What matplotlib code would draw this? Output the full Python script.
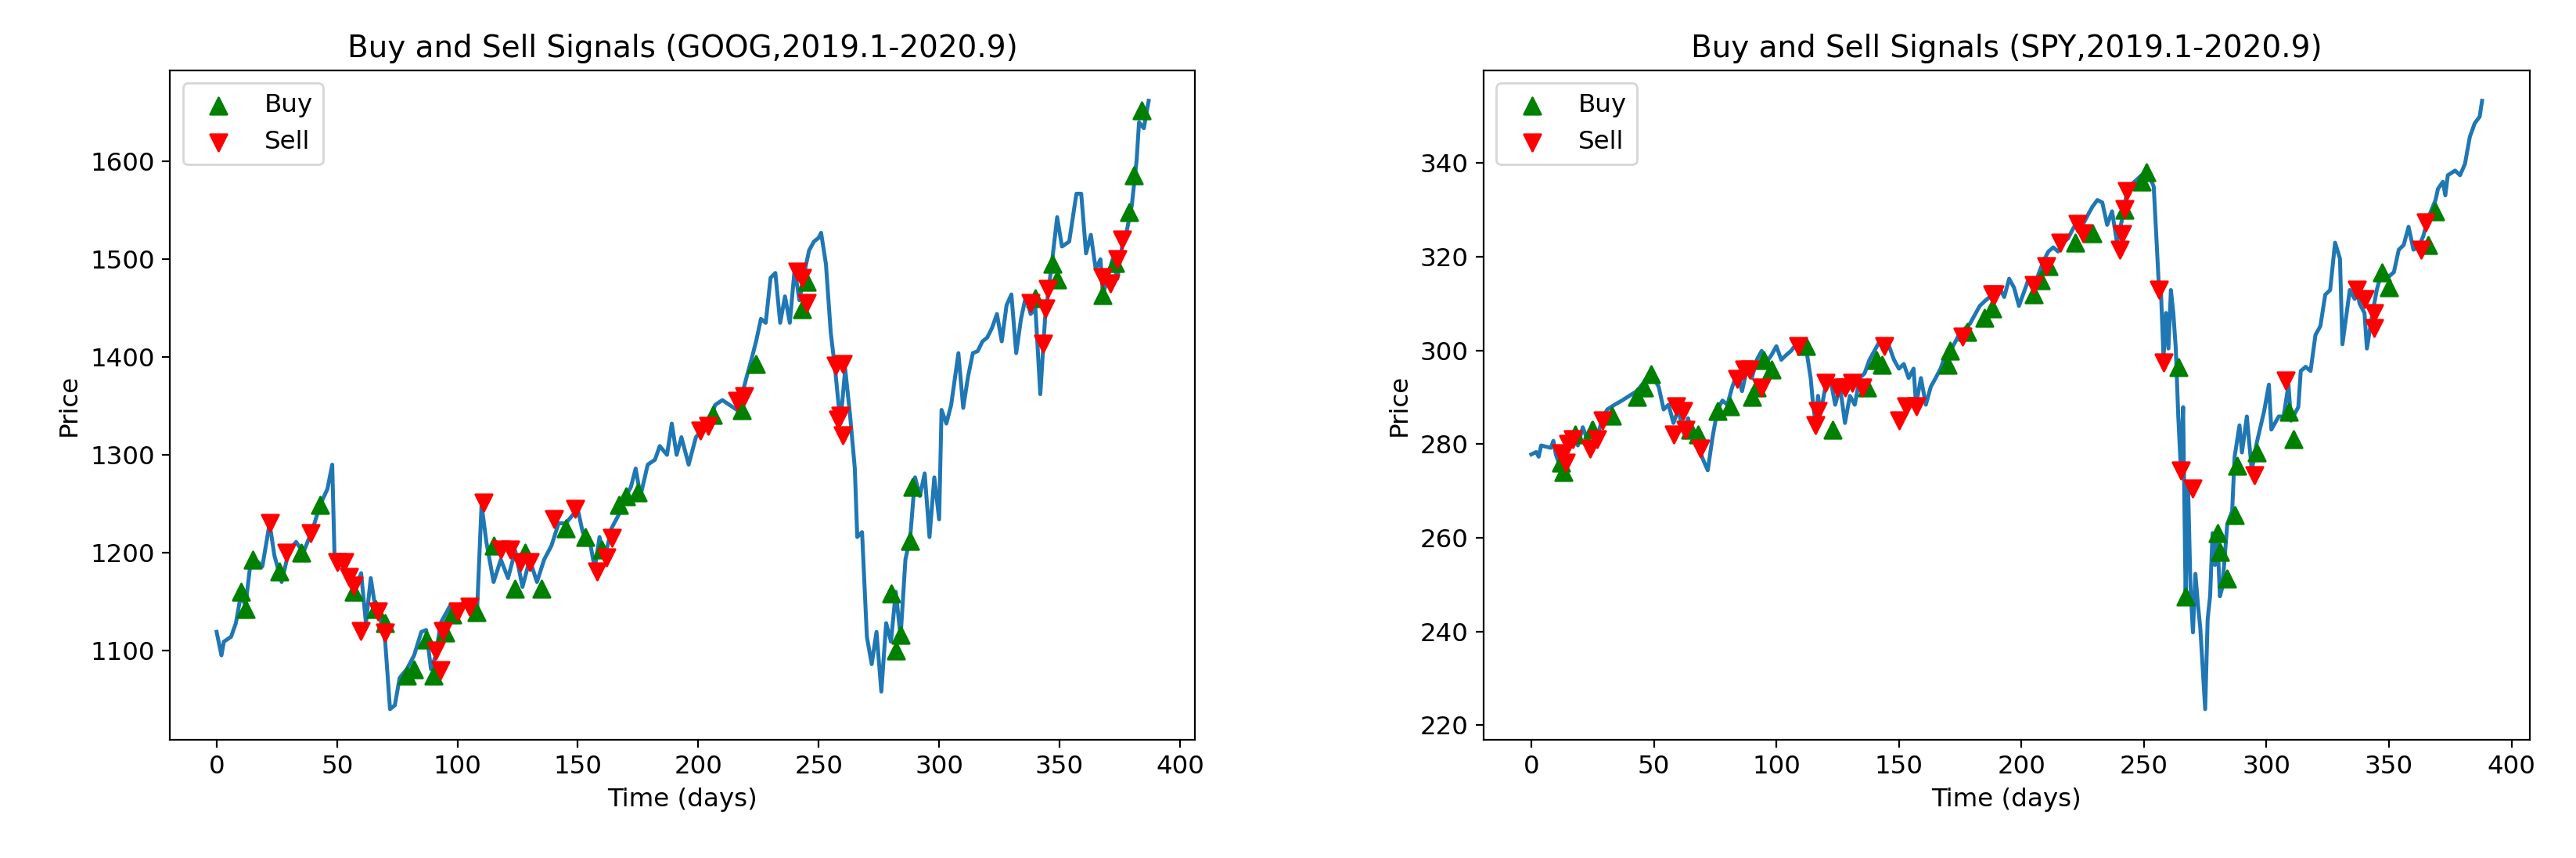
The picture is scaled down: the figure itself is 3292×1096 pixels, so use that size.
import matplotlib
matplotlib.use("Agg")
import matplotlib.pyplot as plt

plt.rcParams["font.size"] = 11.7

# GOOG close (key points)
goog_days = [0, 2, 3, 6, 8, 10, 12, 14, 16, 19, 22, 24, 27, 30, 33, 36, 40, 43, 46, 48, 49, 52, 55, 57,
             60, 62, 64, 66, 68, 70, 72, 74, 76, 79, 82, 85, 87, 89, 91, 93, 95, 97, 100, 103, 106, 108,
             110, 112, 115, 118, 121, 124, 127, 130, 133, 136, 139, 142, 145, 148, 150, 152, 155, 157,
             159, 161, 164, 167, 170, 172, 174, 176, 179, 182, 184, 187, 189, 191, 193, 196, 199, 202,
             205, 207, 210, 213, 216, 218, 220, 222, 224, 226, 228, 230, 232, 234, 236, 238, 240, 242,
             244, 246, 248, 250, 251, 253, 255, 257, 259, 261, 263, 265, 266, 268, 270, 272, 274, 276,
             278, 280, 282, 284, 286, 288, 290, 292, 294, 296, 298, 300,
             301, 303, 305, 308, 310, 312, 314, 316, 318, 320,
             322, 324, 326, 328, 330, 332, 334, 336, 338, 340,
             342, 344, 347, 349, 351, 354, 357, 359, 361, 363,
             365, 367, 368, 370, 372, 374, 376, 378, 380, 382,
             383, 385, 387]
goog_price = [1119, 1095, 1109, 1114, 1128, 1156, 1146, 1188, 1193, 1186, 1230, 1197, 1170, 1202, 1211,
              1200, 1225, 1249, 1265, 1290, 1193, 1188, 1174, 1160, 1179, 1128, 1174, 1142, 1132, 1109,
              1040, 1044, 1072, 1081, 1095, 1119, 1121, 1081, 1095, 1128, 1137, 1146, 1142, 1151, 1146,
              1132, 1249, 1211, 1170, 1193, 1174, 1202, 1165, 1193, 1170, 1193, 1207, 1230, 1230, 1239,
              1244, 1221, 1211, 1184, 1216, 1193, 1225, 1239, 1258, 1267, 1286, 1258, 1290, 1295, 1309,
              1300, 1332, 1300, 1318, 1290, 1318, 1327, 1337, 1351, 1356, 1351, 1346, 1360, 1379, 1397,
              1416, 1439, 1435, 1481, 1486, 1435, 1462, 1435, 1490, 1458, 1486, 1509, 1518, 1522, 1527,
              1495, 1425, 1383, 1332, 1388, 1341, 1286, 1216, 1221, 1114, 1086, 1119, 1058, 1128, 1109,
              1160, 1114, 1193, 1216, 1277, 1258, 1281, 1216, 1277, 1234,
              1346, 1332, 1351, 1404, 1348, 1380, 1404, 1406, 1416, 1420,
              1430, 1444, 1416, 1453, 1464, 1404, 1439, 1462, 1444, 1449,
              1362, 1440, 1500, 1543, 1513, 1518, 1567, 1567, 1506, 1525,
              1490, 1500, 1464, 1481, 1500, 1480, 1513, 1530, 1555, 1601,
              1640, 1634, 1662]

goog_buy_days = [10, 12, 15, 26, 35, 43, 57, 66, 70, 79, 82, 87, 90, 95, 98, 108, 115, 124, 128, 135,
                 145, 153, 160, 167, 170, 175, 206, 218, 224, 243, 245, 280, 282, 284, 289, 288, 340,
                 347, 349, 368, 373, 379, 381, 384]
goog_buy_price = [1160, 1142, 1193, 1181, 1200, 1249, 1160, 1142, 1128, 1074, 1081, 1111, 1074, 1118,
                  1137, 1139, 1207, 1163, 1200, 1163, 1225, 1216, 1203, 1249, 1258, 1262, 1341, 1346,
                  1393, 1449, 1477, 1158, 1100, 1116, 1267, 1212, 1460, 1495, 1479, 1463, 1496, 1548,
                  1586, 1652]
goog_sell_days = [22, 29, 39, 50, 53, 55, 57, 60, 67, 70, 93, 91, 94, 100, 105, 111, 118, 122, 126, 130,
                  140, 149, 158, 162, 164, 201, 204, 216, 219, 241, 243, 245, 257, 260, 259, 260, 258,
                  338, 344, 343, 345, 368, 371, 374, 376]
goog_sell_price = [1230, 1200, 1220, 1190, 1190, 1175, 1166, 1120, 1140, 1118, 1080, 1100, 1120, 1140,
                   1145, 1251, 1203, 1203, 1190, 1190, 1234, 1245, 1181, 1195, 1215, 1325, 1330, 1355,
                   1360, 1487, 1481, 1455, 1391, 1393, 1340, 1320, 1336, 1455, 1450, 1414, 1470, 1482,
                   1475, 1500, 1520]

# SPY close, up to the February top
spy_days_pre = [0, 2, 3, 4, 8, 9, 10, 12, 13, 15, 17, 19, 21, 23, 25, 27, 29, 31, 34, 37, 40, 43, 46, 48,
                50, 52, 54, 56, 58, 60, 62, 64, 66, 68, 70, 72, 74, 76, 78, 80, 82, 84, 86, 88, 90, 92, 94,
                96, 98, 100, 102, 104, 106, 108, 110, 112, 114, 115, 116, 117, 118, 120, 122, 124, 126, 128,
                130, 132, 134, 136, 138, 140, 142, 144, 146, 148, 150, 152, 154, 156, 157, 159, 161, 163,
                165, 167, 169, 171, 173, 175, 177, 179, 181, 183, 185, 187, 189, 191, 193, 195, 197, 199,
                201, 203, 205, 207, 209, 211, 213, 215, 217, 219, 221, 223, 225, 227, 229, 231, 233, 235,
                237, 239, 241, 243, 245, 247, 249]
spy_price_pre = [277.8, 278.3, 277.3, 279.7, 279.2, 280.7, 277.8, 274.9, 274.4, 279.7, 281.6, 279.7, 283.6,
                 280.7, 284.5, 281.6, 285.5, 287.4, 288.4, 289.3, 290.3, 291.3, 293.2, 295.1, 294.1, 292.2,
                 287.4, 288.4, 284.5, 287.4, 282.6, 285.5, 280.7, 279.7, 276.8, 274.4, 281.6, 287.4, 289.3,
                 288.4, 292.2, 295.1, 291.3, 296.1, 294.1, 298.0, 299.9, 297.5, 299.0, 300.9, 298.0, 299.0,
                 299.9, 301.3, 301.8, 300.9, 294.1, 288.4, 284.5, 290.3, 286.4, 292.2, 294.1, 288.4, 292.2,
                 284.5, 290.3, 288.4, 294.1, 295.1, 298.0, 299.9, 301.8, 301.3, 300.9, 298.0, 296.1, 297.1,
                 294.1, 296.1, 288.4, 294.1, 288.4, 292.2, 294.1, 296.1, 299.0, 299.9, 301.8, 303.8, 304.7,
                 305.7, 307.6, 309.5, 310.5, 311.4, 312.4, 313.4, 311.4, 315.3, 313.4, 309.5, 312.4, 315.3,
                 313.4, 316.3, 319.1, 321.1, 322.0, 321.1, 323.0, 323.9, 325.9, 327.8, 326.8, 328.8, 330.7,
                 332.1, 331.6, 326.8, 329.7, 323.0, 327.8, 333.6, 335.5, 336.4, 337.4]
# SPY close, crash and recovery
spy_days_post = [252, 254, 256, 257, 258, 259, 260, 261, 262, 263,
                 264, 265, 266, 267, 268, 269, 270, 271, 272, 273,
                 275, 276, 277, 278, 279, 280, 281, 282, 284, 286,
                 287, 289, 290, 292, 294, 296, 299, 301, 302, 305,
                 307, 309, 310, 313, 314, 316, 318, 320, 322, 324,
                 326, 328, 330, 331, 334, 336, 337, 338, 340, 341,
                 343, 345, 347, 350, 352, 354, 356, 358, 360, 362,
                 364, 366, 369, 370, 372, 373, 374, 377, 379, 381,
                 383, 385, 387, 388]
spy_price_post = [337.4, 335.0, 314.8, 311.9, 298.4, 308.0, 300.4, 312.9, 308.0, 300.4,
                  286.0, 275.4, 287.9, 247.5, 271.5, 249.4, 239.8, 252.3, 246.0, 240.7,
                  223.4, 242.6, 247.5, 261.0, 254.2, 260.0, 247.5, 249.4, 262.9, 265.7,
                  277.3, 284.0, 278.2, 285.9, 274.4, 280.2, 286.9, 292.7, 283.1, 285.9,
                  285.9, 292.7, 285.0, 287.9, 295.6, 296.5, 295.6, 303.3, 305.2, 311.9,
                  312.9, 323.0, 319.6, 301.3, 312.9, 311.0, 312.9, 310.0, 308.0, 300.4,
                  307.1, 312.9, 316.7, 315.8, 316.7, 321.5, 322.5, 326.4, 321.5, 322.0,
                  324.4, 328.3, 332.1, 334.5, 336.0, 333.1, 337.4, 338.4, 337.4, 339.8,
                  345.6, 348.5, 349.9, 353.3]
spy_days = spy_days_pre + spy_days_post
spy_price = spy_price_pre + spy_price_post

spy_buy_days = [12, 13, 18, 25, 33, 43, 46, 49, 65, 68, 76, 81, 90, 92, 95, 98, 112, 123, 137, 141, 143,
                170, 171, 178, 185, 188, 205, 208, 211, 222, 229, 242, 249, 251, 264, 267, 280, 281,
                284, 287, 288, 296, 309, 311, 347, 350, 366, 369]
spy_buy_price = [276, 274, 282, 283, 286, 290, 292, 295, 283, 282, 287, 288, 290, 292, 298, 296, 301,
                 283, 292, 298, 297, 297, 300, 304, 307, 309, 312, 315, 318, 323, 325, 330, 336, 338,
                 296.5, 247.5, 261, 257, 251.3, 264.8, 275.4, 278.2, 286.9, 281.1, 316.7, 313.4,
                 322.5, 329.7]
spy_sell_days = [12, 14, 15, 17, 24, 27, 29, 59, 58, 62, 63, 69, 84, 87, 89, 94, 109, 116, 117, 120, 125,
                 128, 131, 135, 144, 150, 153, 157, 176, 188, 189, 205, 210, 216, 223, 225, 240, 241,
                 242, 243, 256, 258, 265, 270, 295, 308, 337, 340, 344, 344, 363, 365]
spy_sell_price = [278, 276, 280, 281, 279, 281, 285, 288, 282, 287, 283, 279, 294, 296, 296, 292, 301,
                  284, 287, 293, 292, 292, 293, 292, 301, 285, 288, 288, 303, 312, 312, 314, 318, 323,
                  327, 325, 321.5, 324.9, 330.2, 334, 312.9, 297.5, 274.4, 270.5, 273.4, 293.6, 312.9,
                  311, 308, 304.7, 321.5, 327.3]

fig = plt.figure(figsize=(16.46, 5.48), dpi=200)
ax1 = fig.add_axes([0.066, 0.138, 0.398, 0.780])
ax2 = fig.add_axes([0.576, 0.138, 0.406, 0.780])

panels = [
    (ax1, "GOOG", goog_days, goog_price, goog_buy_days, goog_buy_price, goog_sell_days, goog_sell_price),
    (ax2, "SPY", spy_days, spy_price, spy_buy_days, spy_buy_price, spy_sell_days, spy_sell_price),
]
for ax, name, d, p, bd, bp, sd, sp in panels:
    ax.plot(d, p, color="tab:blue", linewidth=1.8)
    ax.scatter(bd, bp, marker="^", color="green", s=60, label="Buy", zorder=3)
    ax.scatter(sd, sp, marker="v", color="red", s=60, label="Sell", zorder=3)
    ax.set_title(f"Buy and Sell Signals ({name},2019.1-2020.9)", fontsize=14)
    ax.set_xlabel("Time (days)")
    ax.set_ylabel("Price")
    ax.set_xticks([0, 50, 100, 150, 200, 250, 300, 350, 400])
    ax.legend(loc="upper left")

ax2.set_yticks([220, 240, 260, 280, 300, 320, 340])

fig.savefig("out.png", dpi=200)
